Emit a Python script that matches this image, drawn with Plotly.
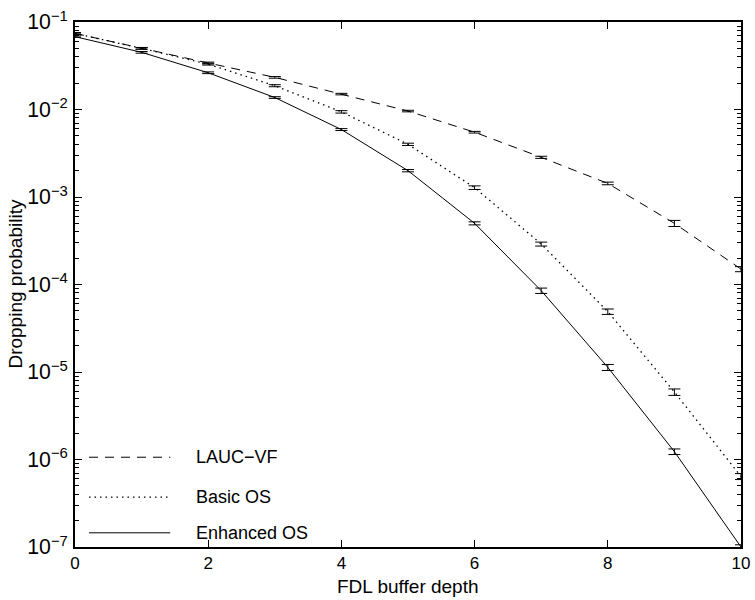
import plotly.graph_objects as go

# ---- data ----
buffer_depth = [0, 1, 2, 3, 4, 5, 6, 7, 8, 9, 10]

lauc_vf = [0.074, 0.050, 0.034, 0.0233, 0.0150, 0.0096, 0.0055, 0.00284, 0.00143, 0.00050, 0.000150]
lauc_vf_err = [0.0015, 0.0012, 0.0008, 0.0005, 0.0003, 0.0002, 0.00012, 0.00008, 0.00005, 0.00004, 0.00001]

basic_os = [0.074, 0.050, 0.033, 0.0187, 0.0094, 0.0040, 0.00128, 0.00029, 0.000049, 0.0000059, 0.00000064]
basic_os_err = [0.0015, 0.001, 0.0008, 0.0005, 0.0003, 0.00012, 0.00006, 0.000015, 0.0000035, 0.0000005, 0.00000005]

enhanced_os = [0.068, 0.045, 0.0263, 0.0137, 0.0059, 0.0020, 0.0005, 0.000085, 0.0000113, 0.00000123, 0.0000001]
enhanced_os_err = [0.0012, 0.001, 0.0006, 0.0003, 0.00015, 0.00006, 0.00002, 0.000006, 0.0000009, 0.00000009, 0.000000006]

legend_labels = ["LAUC\u2212VF", "Basic OS", "Enhanced OS"]
x_title = "FDL buffer depth"
y_title = "Dropping probability"

FONT = "Liberation Sans, Arial, Helvetica, sans-serif"
FS = 19
TICK_FS = 17

series = [
    (lauc_vf, lauc_vf_err, "9px,7px", 1.0),
    (basic_os, basic_os_err, "1.5px,4px", 1.3),
    (enhanced_os, enhanced_os_err, "solid", 1.0),
]

fig = go.Figure()
for (vals, errs, dash, w), name in zip(series, legend_labels):
    fig.add_trace(go.Scatter(
        x=buffer_depth, y=vals, mode="lines", name=name,
        line=dict(color="black", width=w, dash=dash),
        error_y=dict(type="data", array=errs, visible=True, color="black",
                     thickness=1, width=6),
        showlegend=False,
    ))

# manual legend (no box), lower-left inside plot
leg_y = [0.171, 0.095, 0.027]
for (vals, errs, dash, w), name, yy in zip(series, legend_labels, leg_y):
    fig.add_shape(type="line", xref="paper", yref="paper",
                  x0=0.021, x1=0.143, y0=yy, y1=yy,
                  line=dict(color="black", width=w, dash=dash))
    fig.add_annotation(xref="paper", yref="paper", x=0.178, y=yy,
                       text=name, showarrow=False, xanchor="left", yanchor="middle",
                       font=dict(family=FONT, size=18, color="black"))

# axis titles
fig.add_annotation(xref="paper", yref="paper", x=0.5, y=-0.0745, text=x_title,
                   showarrow=False, xanchor="center", yanchor="middle",
                   font=dict(family=FONT, size=FS, color="black"))
fig.add_annotation(xref="paper", yref="paper", x=-0.09, y=0.5, text=y_title,
                   showarrow=False, xanchor="center", yanchor="middle", textangle=-90,
                   font=dict(family=FONT, size=FS, color="black"))

axis_common = dict(
    showline=True, linecolor="black", linewidth=1.5, mirror="allticks",
    ticks="inside", tickcolor="black", showgrid=False, zeroline=False,
    automargin=False,
    tickfont=dict(family=FONT, size=TICK_FS, color="black"),
)

fig.update_xaxes(
    range=[0, 10], dtick=2, tick0=0, ticklen=7, ticklabelstandoff=0,
    **axis_common,
)
fig.update_yaxes(
    type="log", range=[-7, -1], dtick=1, ticklen=7, exponentformat="power",
    ticklabelstandoff=2,
    minor=dict(ticks="inside", ticklen=4, tickcolor="black", dtick="D1", showgrid=False),
    **axis_common,
)

fig.update_layout(
    width=755, height=600,
    margin=dict(l=75, r=14, t=22, b=53),
    paper_bgcolor="white", plot_bgcolor="white",
    font=dict(family=FONT, size=FS, color="black"),
)

fig.write_html("out.html")
